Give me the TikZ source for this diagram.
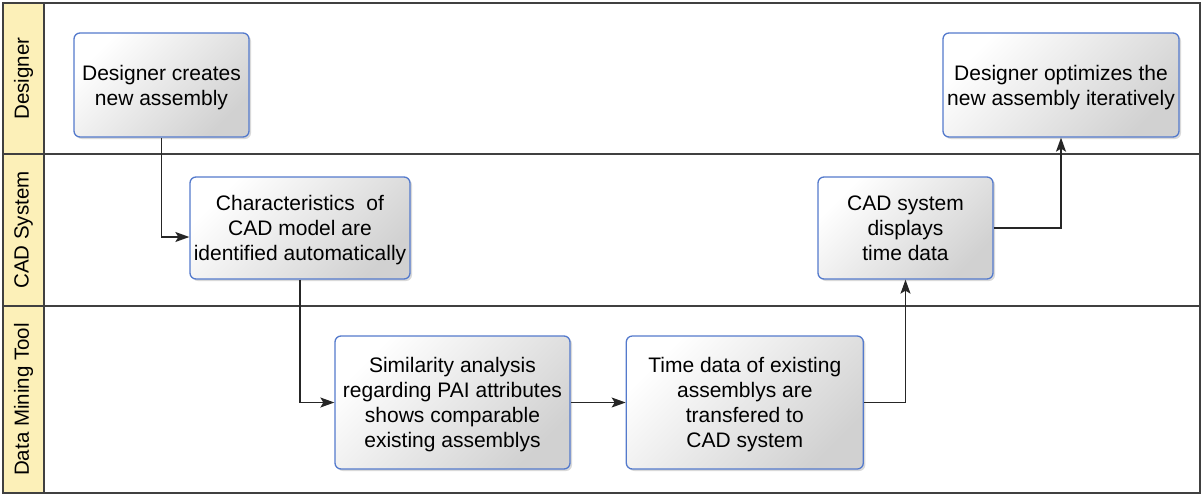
\documentclass[tikz,border=0pt]{standalone}
\usepackage{fontspec}
\setmainfont{Liberation Sans}
\usepackage{tikz}
\usetikzlibrary{shapes,arrows.meta,positioning,shadows}
\definecolor{taskblue}{RGB}{84,122,204}
\definecolor{laneyellow}{RGB}{252,240,184}
\definecolor{laneline}{RGB}{64,64,64}

\begin{document}
\begin{tikzpicture}[x=1pt, y=-1pt, node distance=55pt, >={Stealth[length=14pt,width=10pt,inset=3pt]}]
\tikzset{
task/.style      = {draw=taskblue, line width=1.3pt, rounded corners=6pt, top color=white, bottom color=black!18, shading angle=45, drop shadow={shadow xshift=2pt, shadow yshift=-2pt, opacity=0.3}, align=center, inner sep=0pt, text depth=0pt, font=\fontsize{21}{25}\selectfont},
lanelabel/.style = {rotate=90, font=\fontsize{20.5}{24}\selectfont},
lane/.style      = {draw=laneline, line width=1.3pt},
flow/.style      = {->, draw=black!85, line width=1.3pt},
}
    \useasboundingbox (0,0) rectangle (1203,496);

    % Lanes
    \fill [laneyellow] (3,3) rectangle (44,493);
    \draw [lane] (3,3) rectangle (1200,493);
    \draw [lane] (44,3) -- (44,493);
    \draw [lane] (3,154) -- (1200,154);
    \draw [lane] (3,306) -- (1200,306);
    \node [lanelabel] (lane_designer) at (23.5,78.5)  {Designer};
    \node [lanelabel] (lane_cad)      at (23.5,230)   {CAD System};
    \node [lanelabel] (lane_dm)       at (23.5,399.5) {Data Mining Tool};

    % Task nodes
    \node [task, minimum width=175pt, minimum height=104pt] (designer_create)   at (161.5,85)
        {Designer creates\\new assembly};
    \node [task, minimum width=220pt, minimum height=102pt] (cad_identify)      at (300,228)
        {Characteristics~ of\\CAD model are\\identified automatically};
    \node [task, minimum width=235pt, minimum height=133pt] (dm_similarity)     at (452.5,402.5)
        {Similarity analysis\\regarding PAI attributes\\shows comparable\\existing assemblys};
    \node [task, minimum width=237pt, minimum height=133pt, right=of dm_similarity] (dm_transfer)
        {Time data of existing\\assemblys are\\transfered to\\CAD system};
    \node [task, minimum width=175pt, minimum height=102pt] (cad_display)       at (905.5,228)
        {CAD system\\displays\\time data};
    \node [task, minimum width=236pt, minimum height=104pt] (designer_optimize) at (1061,85)
        {Designer optimizes the\\new assembly iteratively};

    % Flow edges
    \draw [flow] (designer_create) |- ([yshift=-9pt]cad_identify.west);
    \draw [flow] (cad_identify) |- (dm_similarity);
    \draw [flow] (dm_similarity) -- (dm_transfer);
    \draw [flow] (dm_transfer) -| (cad_display);
    \draw [flow] (cad_display) -| (designer_optimize);

\end{tikzpicture}
\end{document}
